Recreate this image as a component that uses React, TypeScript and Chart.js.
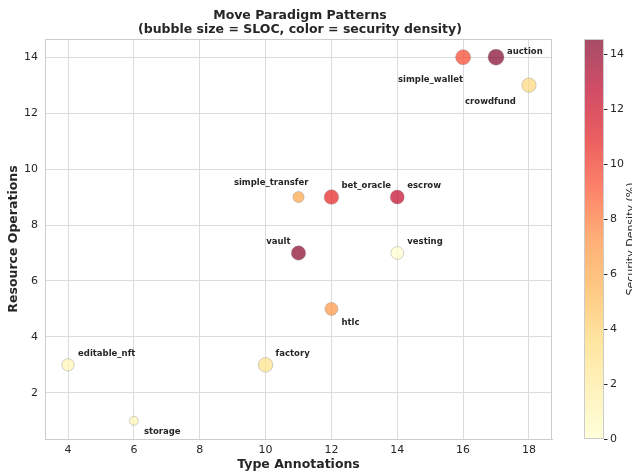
import React, { useEffect, useRef } from "react";
import { Chart, registerables } from "chart.js";

Chart.register(...registerables);

// ---------- data ----------
const names = [
  "simple_wallet",
  "auction",
  "crowdfund",
  "simple_transfer",
  "bet_oracle",
  "escrow",
  "vault",
  "vesting",
  "htlc",
  "editable_nft",
  "factory",
  "storage",
];
const typeAnnotations = [16, 17, 18, 11, 12, 14, 11, 14, 12, 4, 10, 6];
const resourceOps = [14, 14, 13, 9, 9, 9, 7, 7, 5, 3, 3, 1];
const sloc = [352, 400, 324, 196, 333, 306, 324, 256, 264, 240, 333, 127];
const securityDensity = [9.5, 14.55, 3.6, 6.2, 10.8, 12.5, 14.3, 0, 7.0, 1.0, 2.8, 0.9];

const xTicks = [4, 6, 8, 10, 12, 14, 16, 18];
const yTicks = [2, 4, 6, 8, 10, 12, 14];
const cbTicks = [0, 2, 4, 6, 8, 10, 12, 14];

// ---------- style ----------
const FONT = "'DejaVu Sans', sans-serif";
const TEXT = "#262626";
const GRID = "#dcdcdc";
const SPINE = "#cccccc";
const ALPHA = 0.7;

// label placement (pixel offsets from bubble centre)
const labelPlace: Record<string, { dx: number; dy: number; align: CanvasTextAlign }> = {
  simple_wallet: { dx: 0, dy: 23, align: "right" },
  auction: { dx: 11, dy: -5, align: "left" },
  crowdfund: { dx: -13, dy: 17, align: "right" },
  simple_transfer: { dx: 10, dy: -14, align: "right" },
  bet_oracle: { dx: 10, dy: -11, align: "left" },
  escrow: { dx: 10, dy: -11, align: "left" },
  vault: { dx: -8, dy: -11, align: "right" },
  vesting: { dx: 10, dy: -11, align: "left" },
  htlc: { dx: 10, dy: 14, align: "left" },
  editable_nft: { dx: 10, dy: -11, align: "left" },
  factory: { dx: 10, dy: -11, align: "left" },
  storage: { dx: 10, dy: 11, align: "left" },
};

const YLORRD = [
  [255, 255, 204],
  [255, 237, 160],
  [254, 217, 118],
  [254, 178, 76],
  [253, 141, 60],
  [252, 78, 42],
  [227, 26, 28],
  [189, 0, 38],
  [128, 0, 38],
];

const vmin = Math.min(...securityDensity);
const vmax = Math.max(...securityDensity);

function cmapRGB(v: number): number[] {
  let t = (v - vmin) / (vmax - vmin);
  t = Math.max(0, Math.min(1, t));
  const p = t * (YLORRD.length - 1);
  const i = Math.min(Math.floor(p), YLORRD.length - 2);
  const f = p - i;
  const a = YLORRD[i];
  const b = YLORRD[i + 1];
  return a.map((ch, k) => ch + (b[k] - ch) * f);
}

function cmap(v: number, alpha = ALPHA): string {
  const c = cmapRGB(v).map((x) => Math.round(x));
  return `rgba(${c[0]},${c[1]},${c[2]},${alpha})`;
}

// alpha-blended over white, opaque
function cmapOnWhite(v: number): string {
  const c = cmapRGB(v).map((x) => Math.round(x * ALPHA + 255 * (1 - ALPHA)));
  return `rgb(${c[0]},${c[1]},${c[2]})`;
}

function radius(s: number): number {
  return 0.4 * Math.sqrt(s);
}

const overlay = {
  id: "overlay",
  afterDraw(chart: any) {
    const ctx: CanvasRenderingContext2D = chart.ctx;
    const { left, right, top, bottom } = chart.chartArea;
    ctx.save();

    // top/right spines
    ctx.strokeStyle = SPINE;
    ctx.lineWidth = 1;
    ctx.beginPath();
    ctx.moveTo(left, Math.round(top) + 0.5);
    ctx.lineTo(right, Math.round(top) + 0.5);
    ctx.moveTo(Math.round(right) - 0.5, top);
    ctx.lineTo(Math.round(right) - 0.5, bottom);
    ctx.stroke();

    // point labels
    const meta = chart.getDatasetMeta(0);
    ctx.fillStyle = TEXT;
    ctx.font = `bold 8.5px ${FONT}`;
    ctx.textBaseline = "middle";
    names.forEach((n, i) => {
      const el = meta.data[i];
      const pl = labelPlace[n];
      ctx.textAlign = pl.align;
      ctx.fillText(n, el.x + pl.dx, el.y + pl.dy);
    });

    // title
    ctx.textAlign = "center";
    ctx.font = `bold 12.5px ${FONT}`;
    ctx.fillText("Move Paradigm Patterns", 300, 16);
    ctx.fillText("(bubble size = SLOC, color = security density)", 300, 30);

    // axis titles
    ctx.font = `bold 12.5px ${FONT}`;
    ctx.fillText("Type Annotations", (left + right) / 2, 465);
    ctx.save();
    ctx.translate(14, (top + bottom) / 2);
    ctx.rotate(-Math.PI / 2);
    ctx.fillText("Resource Operations", 0, 0);
    ctx.restore();

    // colorbar
    const cbL = 584;
    const cbR = 604;
    const cbT = top;
    const cbB = bottom;
    const grad = ctx.createLinearGradient(0, cbB, 0, cbT);
    const stops = 40;
    for (let k = 0; k <= stops; k++) {
      grad.addColorStop(k / stops, cmapOnWhite(vmin + ((vmax - vmin) * k) / stops));
    }
    ctx.fillStyle = grad;
    ctx.fillRect(cbL, cbT, cbR - cbL, cbB - cbT);
    ctx.strokeStyle = SPINE;
    ctx.lineWidth = 1;
    ctx.strokeRect(cbL + 0.5, Math.round(cbT) + 0.5, cbR - cbL - 1, cbB - cbT - 1);

    ctx.strokeStyle = TEXT;
    ctx.fillStyle = TEXT;
    ctx.font = `11px ${FONT}`;
    ctx.textAlign = "left";
    ctx.textBaseline = "middle";
    cbTicks.forEach((t) => {
      const y = cbB - ((t - vmin) / (vmax - vmin)) * (cbB - cbT);
      const yy = Math.round(y) + 0.5;
      ctx.beginPath();
      ctx.moveTo(cbR, yy);
      ctx.lineTo(cbR + 3.5, yy);
      ctx.stroke();
      ctx.fillText(String(t), cbR + 6, y);
    });

    ctx.save();
    ctx.translate(634, (cbT + cbB) / 2);
    ctx.rotate(-Math.PI / 2);
    ctx.textAlign = "center";
    ctx.textBaseline = "alphabetic";
    ctx.font = `11px ${FONT}`;
    ctx.fillText("Security Density (%)", 0, 0);
    ctx.restore();

    ctx.restore();
  },
};

export default function App() {
  const ref = useRef<HTMLCanvasElement | null>(null);

  useEffect(() => {
    if (!ref.current) return;
    const data = names.map((_, i) => ({
      x: typeAnnotations[i],
      y: resourceOps[i],
      r: radius(sloc[i]),
    }));
    const chart = new Chart(ref.current, {
      type: "bubble",
      data: {
        datasets: [
          {
            data,
            backgroundColor: securityDensity.map((v) => cmap(v)),
            borderColor: "rgba(128,128,128,0.7)",
            borderWidth: 0.5,
          },
        ],
      },
      options: {
        responsive: false,
        animation: false,
        devicePixelRatio: 1,
        layout: { padding: { left: 0, top: 39, right: 80, bottom: 0 } },
        plugins: {
          legend: { display: false },
          tooltip: { enabled: false },
          title: { display: false },
        },
        scales: {
          x: {
            type: "linear",
            min: 3.3,
            max: 18.7,
            afterBuildTicks: (s: any) => {
              s.ticks = xTicks.map((v) => ({ value: v }));
            },
            afterFit: (s: any) => {
              s.height = 36;
            },
            grid: { color: GRID, drawTicks: false, lineWidth: 1 },
            border: { color: SPINE, width: 1 },
            ticks: {
              color: TEXT,
              padding: 5,
              font: { family: FONT, size: 11 },
              callback: (v: any) => String(v),
            },
          },
          y: {
            type: "linear",
            min: 0.35,
            max: 14.65,
            afterBuildTicks: (s: any) => {
              s.ticks = yTicks.map((v) => ({ value: v }));
            },
            afterFit: (s: any) => {
              s.width = 45;
            },
            grid: { color: GRID, drawTicks: false, lineWidth: 1 },
            border: { color: SPINE, width: 1 },
            ticks: {
              color: TEXT,
              padding: 7,
              font: { family: FONT, size: 11 },
              callback: (v: any) => String(v),
            },
          },
        },
      },
      plugins: [overlay],
    });
    return () => chart.destroy();
  }, []);

  return (
    <canvas
      ref={ref}
      width={632}
      height={475}
      style={{ position: "absolute", left: 0, top: 0, width: 632, height: 475 }}
    />
  );
}
